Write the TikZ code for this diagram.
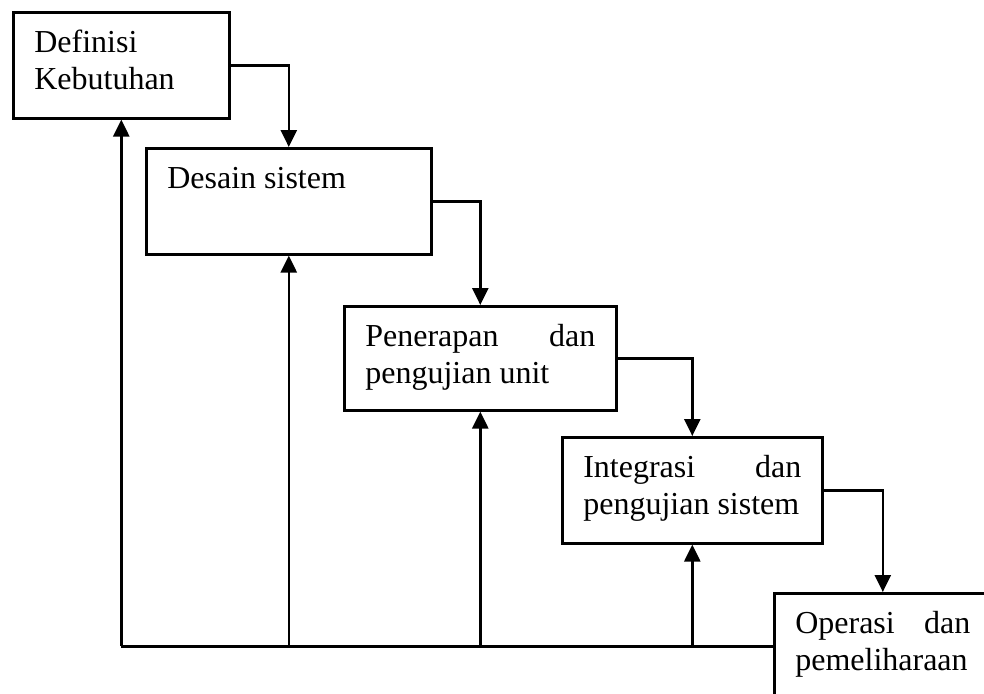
\documentclass[tikz,border=0pt]{standalone}
\usepackage{fontspec}
\setmainfont{Liberation Serif}
\usetikzlibrary{arrows.meta}
\hyphenpenalty=10000
\exhyphenpenalty=10000
\tolerance=10000

\tikzset{
  tahap/.style={draw, line width=1.3pt, anchor=north west, align=justify,
    inner xsep=10.5pt, inner ysep=0pt, text height=20pt, text depth=33pt,
    font=\fontsize{16pt}{18.8pt}\selectfont},
  alur/.style={line width=1.3pt, -{Triangle[width=8pt,length=8.5pt]}},
  balik/.style={line width=1.3pt}
}

\begin{document}
\begin{tikzpicture}[x=0.5pt,y=-0.5pt]
            \useasboundingbox (0,0) rectangle (984,693);
            \clip (0,0) rectangle (984,693);

            \node[tahap, text width=87pt] (b1) at (12,11) {Definisi Kebutuhan};
            \node[tahap, text width=121.5pt] (b2) at (145,147) {Desain sistem};
            \node[tahap, text width=115pt, text depth=32pt] (b3) at (343,305) {Penerapan dan pengujian unit};
            \node[tahap, text width=109pt] (b4) at (561,436) {Integrasi dan pengujian sistem};
            \node[tahap, text width=87.5pt] (b5) at (773,592) {Operasi dan pemeliharaan};

            \draw[alur] (b1.east) -| (b2.north);
            \draw[alur] (b2.east) -| (b3.north);
            \draw[alur] (b3.east) -| (b4.north);
            \draw[alur] (b4.east) -| (b5.north);

            \coordinate (k1) at (b1.south |- b5.west);
            \coordinate (k2) at (b2.south |- b5.west);
            \coordinate (k3) at (b3.south |- b5.west);
            \coordinate (k4) at (b4.south |- b5.west);

            \draw[balik] (b5.west) -- (k1);
            \draw[alur] (k1) -- (b1.south);
            \draw[alur] (k2) -- (b2.south);
            \draw[alur] (k3) -- (b3.south);
            \draw[alur] (k4) -- (b4.south);
\end{tikzpicture}
\end{document}
